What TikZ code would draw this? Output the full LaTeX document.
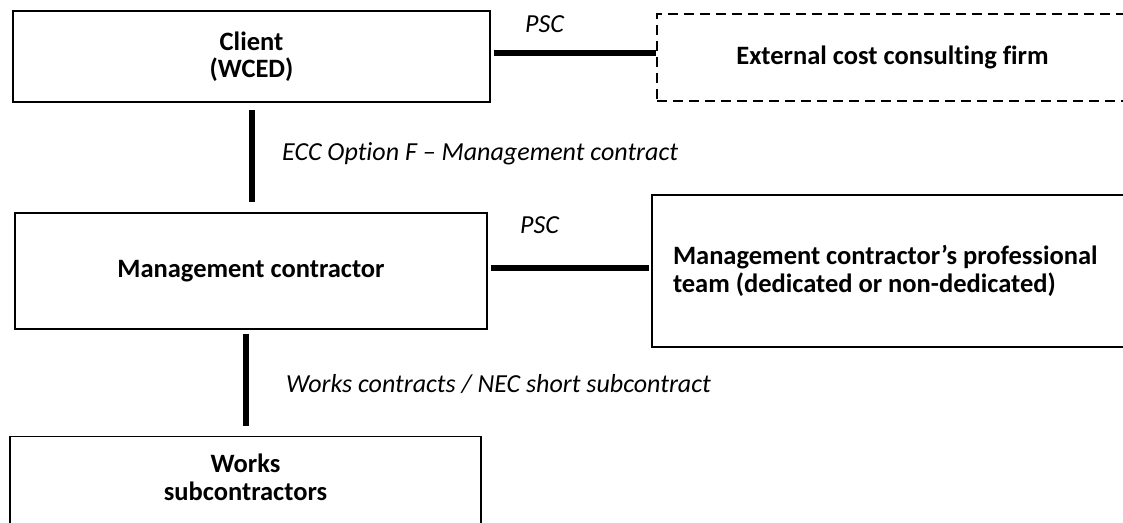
\documentclass[tikz,border=0pt]{standalone}
\usepackage{fontspec}
\setmainfont{Carlito}[Ligatures={NoCommon}]
\begin{document}
\begin{tikzpicture}[x=1pt,y=-1pt,
  box/.style={draw=black, line width=1.3pt, font=\fontsize{26.5}{27.5}\selectfont\bfseries, align=center, inner sep=0pt},
  dbox/.style={box, dash pattern=on 10pt off 6pt},
  btext/.style={font=\fontsize{26.5}{27.5}\selectfont\bfseries, align=center, inner sep=0pt},
  link/.style={line width=6pt},
  lab/.style={font=\fontsize{26}{26}\selectfont\itshape, anchor=base west, inner sep=0pt}]
\clip (0,0) rectangle (1123,522);
\node[box, minimum width=477pt, minimum height=91pt] (client) at (251.5,56.5) {Client\\(WCED)};
\node[dbox, minimum width=471pt, minimum height=87pt] (ext) at (892.5,57.5) {External cost consulting firm};
\node[box, minimum width=472pt, minimum height=116pt] (mgmt) at (251,271) {Management contractor};
\node[box, minimum width=483pt, minimum height=152pt, text width=441pt, align=flush left] (prof) at (893.5,271) {Management contractor’s professional\\team (dedicated or non-dedicated)};
\node[box, minimum width=471pt, minimum height=130pt, anchor=north] (works) at (245.5,436) {};
\node[btext, anchor=north] (workstext) at (245.5,454) {Works\\subcontractors};
\draw[link, shorten <=3pt] ([yshift=3.5pt]client.east) -- ([yshift=3.5pt]client.east -| ext.west);
\draw[link, shorten <=7pt, shorten >=10pt] (client.south) -- (client.south |- mgmt.north);
\draw[link, shorten <=3pt, shorten >=2pt] ([yshift=3pt]mgmt.east) -- ([yshift=3pt]mgmt.east -| prof.west);
\draw[link, shorten <=4pt, shorten >=10pt] (mgmt.south -| works.north) -- (works.north);
\node[lab] (psc1) at (525,32) {PSC};
\node[lab] (ecc) at (282,160) {ECC Option F – Management contract};
\node[lab] (psc2) at (520,233) {PSC};
\node[lab] (wc) at (286,392) {Works contracts / NEC short subcontract};
\end{tikzpicture}
\end{document}
